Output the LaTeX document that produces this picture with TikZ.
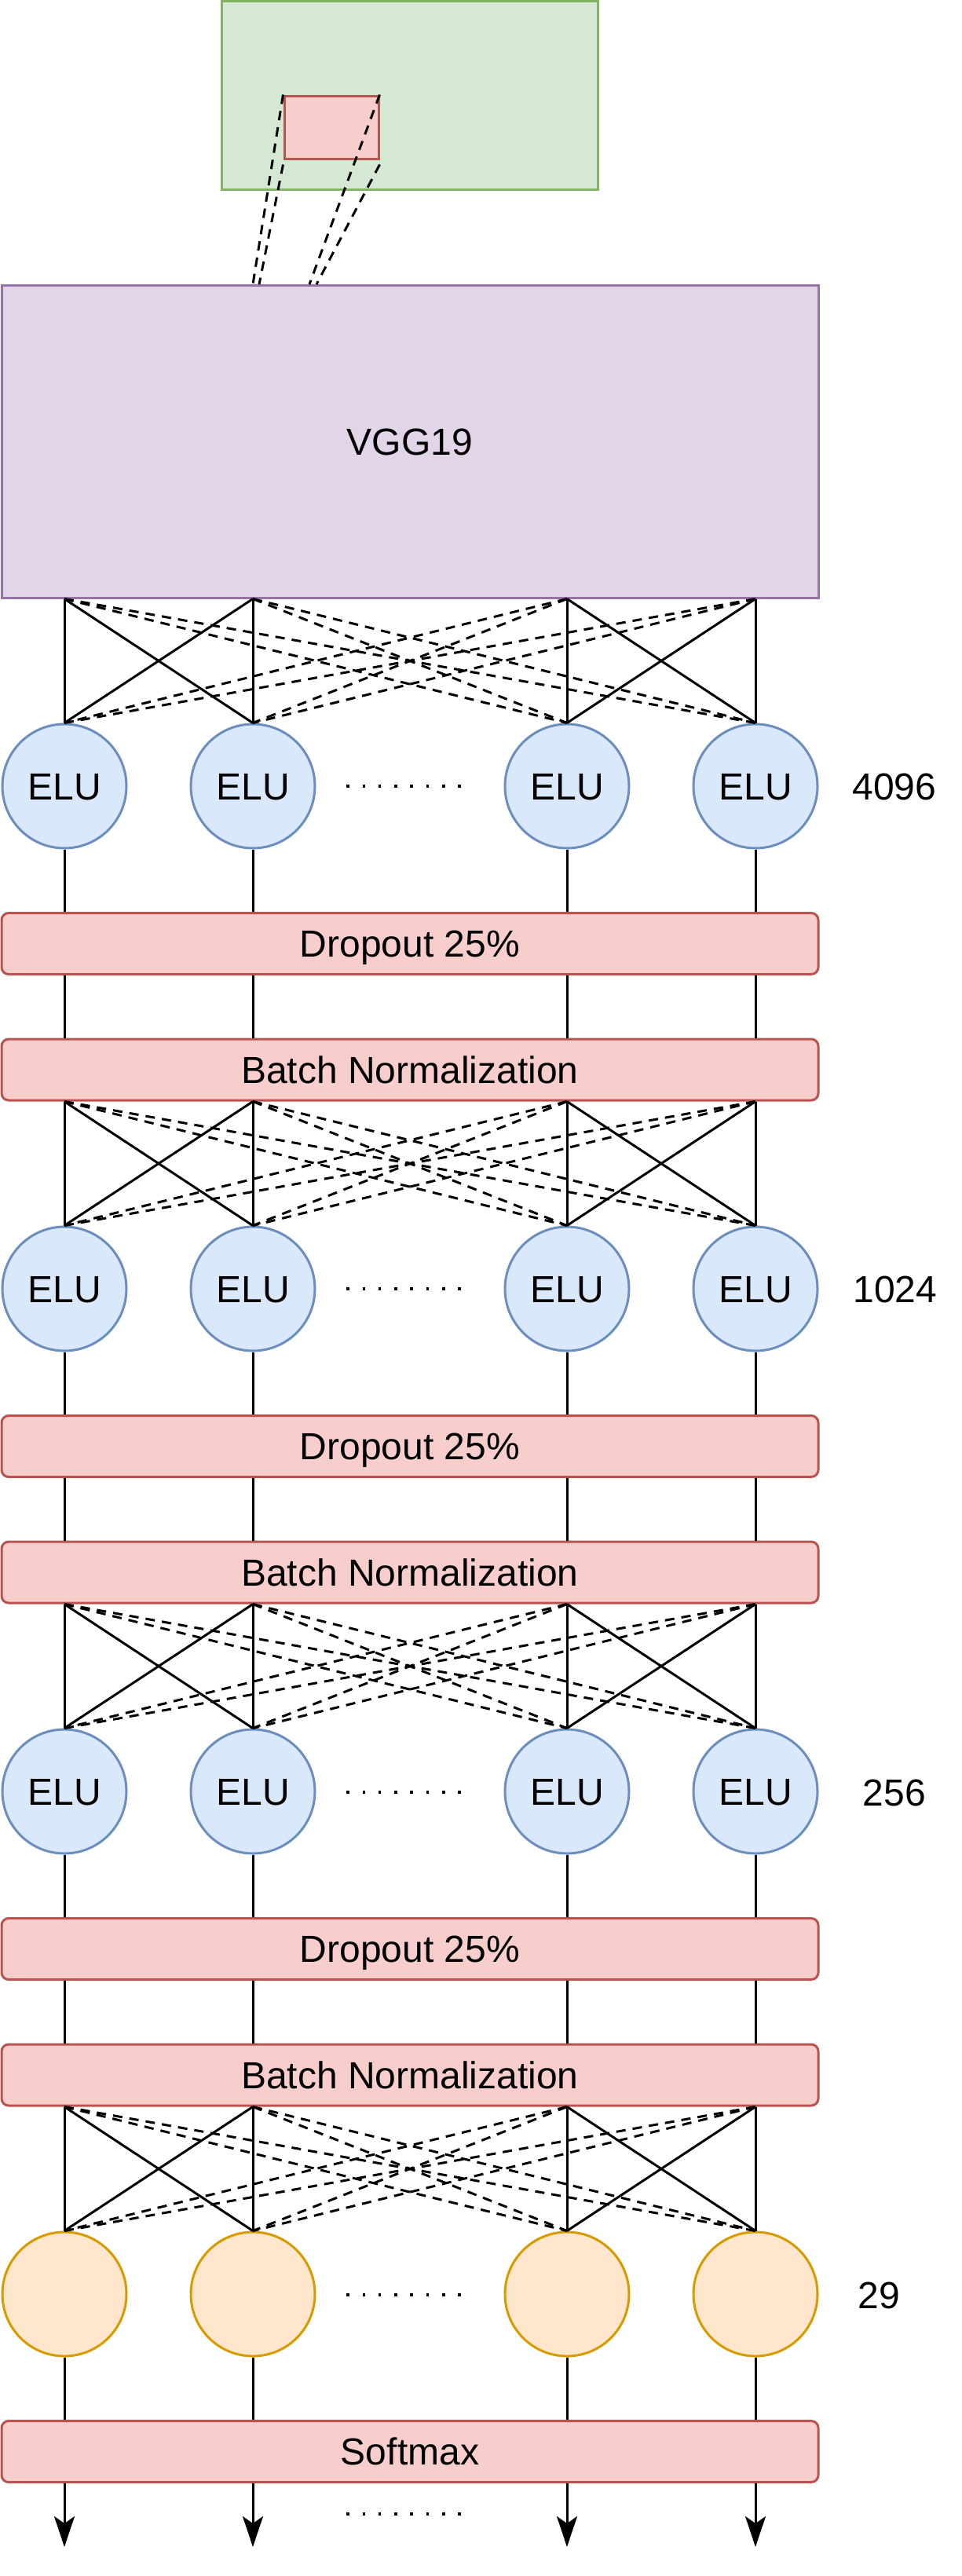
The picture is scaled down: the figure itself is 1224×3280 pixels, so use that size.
\documentclass[tikz,border=0pt]{standalone}
\usepackage{fontspec}
\setmainfont{Liberation Sans}
\usetikzlibrary{arrows.meta,calc}
\definecolor{greenF}{HTML}{D5E8D4}\definecolor{greenD}{HTML}{82B366}
\definecolor{redF}{HTML}{F8CECC}\definecolor{redD}{HTML}{B85450}
\definecolor{purF}{HTML}{E1D5E7}\definecolor{purD}{HTML}{9673A6}
\definecolor{bluF}{HTML}{DAE8FC}\definecolor{bluD}{HTML}{6C8EBF}
\definecolor{orF}{HTML}{FFE6CC}\definecolor{orD}{HTML}{D79B00}
\begin{document}
\begin{tikzpicture}[x=1pt,y=-1pt,line width=3pt,
  lbl/.style={font=\fontsize{48}{58}\selectfont,text height=34.4pt,text depth=0pt},
  layerbox/.style={draw=redD,fill=redF,rounded corners=9pt,minimum width=1040pt,minimum height=78pt,inner sep=0pt,lbl},
  neuron/.style={circle,draw=bluD,fill=bluF,minimum size=158pt,inner sep=0pt,lbl},
  outneuron/.style={circle,draw=orD,fill=orF,minimum size=158pt,inner sep=0pt},
  link/.style={black,line width=3pt},
  dlink/.style={black,line width=3pt,dash pattern=on 12pt off 9pt},
  dotrow/.style={black,line width=3.5pt,dash pattern=on 3.5pt off 16.8pt},
  headtip/.style={-{Stealth[length=39pt,width=26pt,inset=9pt]}}
]
\useasboundingbox (0,0) rectangle (1224,3280);

% columns
\coordinate (c1) at (82,0);
\coordinate (c2) at (322,0);
\coordinate (c3) at (722,0);
\coordinate (c4) at (962,0);

% input image and patch
\node[draw=greenD,fill=greenF,minimum width=479pt,minimum height=240pt,inner sep=0pt] (img) at (522,121.5) {};
\node[draw=redD,fill=redF,minimum width=120pt,minimum height=80pt,inner sep=0pt] (patch) at (422,162) {};
\node[draw=purD,fill=purF,minimum width=1040pt,minimum height=398pt,inner sep=0pt,lbl] (vgg) at (522,562) {VGG19};

\coordinate (p1) at (patch.north west);
\coordinate (p2) at ($(patch.south west)+(0,6)$);
\coordinate (p3) at (patch.north east);
\coordinate (p4) at ($(patch.south east)+(0,6)$);
\coordinate (v1) at (322,362);
\coordinate (v2) at (330,362);
\coordinate (v3) at (394,362);
\coordinate (v4) at (403,362);
\draw[dlink] (p1) -- (v1);
\draw[dlink] (p2) -- (v2);
\draw[dlink] (p3) -- (v3);
\draw[dlink] (p4) -- (v4);

% neurons
\foreach \k in {0,1,2,3}{
  \pgfmathsetmacro\b{1001+640*\k}
  \foreach \j/\x in {1/82,2/322,3/722,4/962}{
    \ifnum\k<3
      \node[neuron] (n-\k-\j) at (\x,\b) {ELU};
    \else
      \node[outneuron] (n-\k-\j) at (\x,\b) {};
    \fi
  }
}

% layer boxes
\node[layerbox] (d0) at (522,1201.5) {Dropout 25\%};
\node[layerbox] (bn0) at (522,1362) {Batch Normalization};
\node[layerbox] (d1) at (522,1841.5) {Dropout 25\%};
\node[layerbox] (bn1) at (522,2002) {Batch Normalization};
\node[layerbox] (d2) at (522,2481.5) {Dropout 25\%};
\node[layerbox] (bn2) at (522,2642) {Batch Normalization};
\node[layerbox] (sm) at (522,3121.5) {Softmax};

% size labels
\node[lbl] (l0) at (1139,1001) {4096};
\node[lbl] (l1) at (1140,1641) {1024};
\node[lbl] (l2) at (1139,2282) {256};
\node[lbl] (l3) at (1119,2922) {29};

% full connections
\foreach \k/\src in {0/vgg,1/bn0,2/bn1,3/bn2}{
  \foreach \i in {1,...,4}{
    \foreach \j in {1,...,4}{
      \pgfmathtruncatemacro\same{((\i<3)==(\j<3))}
      \ifnum\same=1
        \draw[link] (c\i |- \src.south) -- (n-\k-\j.north);
      \else
        \draw[dlink] (c\i |- \src.south) -- (n-\k-\j.north);
      \fi
    }
  }
}

% vertical connectors
\foreach \k in {0,1,2}{
  \foreach \j in {1,...,4}{
    \draw[link] (n-\k-\j.south) -- (c\j |- d\k.north);
    \draw[link] (c\j |- d\k.south) -- (c\j |- bn\k.north);
  }
}
\foreach \j in {1,...,4}{
  \draw[link] (n-3-\j.south) -- (c\j |- sm.north);
  \coordinate (o\j) at (c\j |- 0,3243);
  \draw[link,headtip] (c\j |- sm.south) -- (o\j);
}

% ellipsis dots
\foreach \y in {1001,1641,2282,2922,3201}{
  \coordinate (ea) at (441.25,\y);
  \coordinate (eb) at (590,\y);
  \draw[dotrow] (ea) -- (eb);
}
\end{tikzpicture}
\end{document}
